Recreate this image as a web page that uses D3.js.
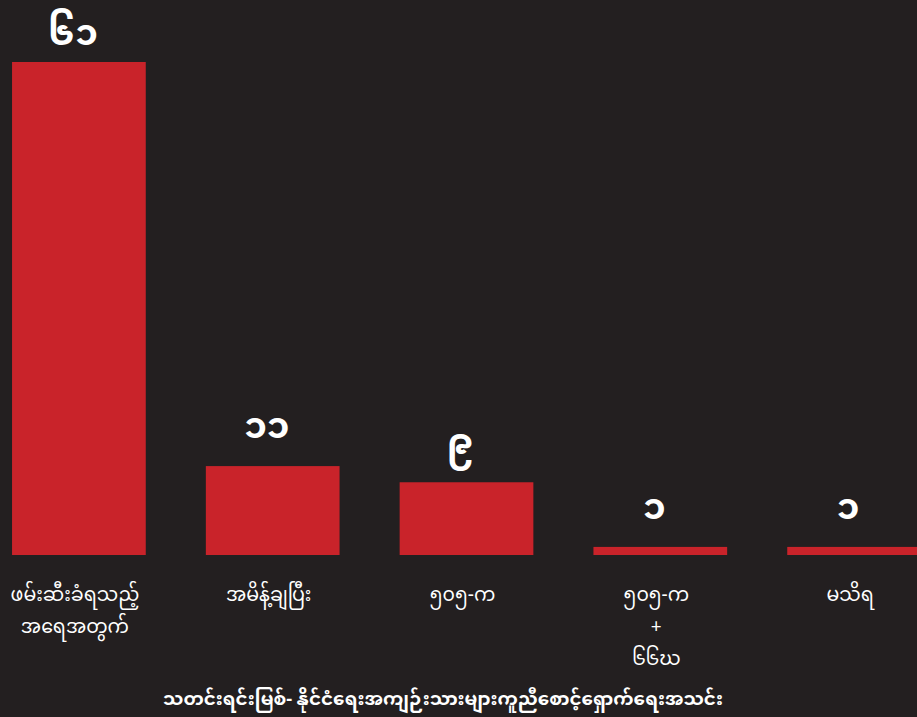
<!DOCTYPE html>
<html>
<head>
<meta charset="utf-8">
<script src="https://cdn.jsdelivr.net/npm/d3@7"></script>
<style>
  html, body { margin: 0; padding: 0; background: #231f20; }
  svg { display: block; }
  text { font-family: "Noto Sans Myanmar", "Noto Sans", sans-serif; fill: #ffffff; }
</style>
</head>
<body>
<div id="root"></div>
<script>
// categories (one array per line of the axis label), values and value labels
var categories = ['c1', 'c2', 'c3', 'c4', 'c5'];
var categoryLines = [
  ['ဖမ်းဆီးခံရသည့်', 'အရေအတွက်'],
  ['အမိန့်ချပြီး'],
  ['၅၀၅-က'],
  ['၅၀၅-က', '+', '၆၆ဃ'],
  ['မသိရ']
];
var values = [61, 11, 9, 1, 1];
var valueLabels = ['၆၁', '၁၁', '၉', '၁', '၁'];
var sourceText = 'သတင်းရင်းမြစ်- နိုင်ငံရေးအကျဉ်းသားများကူညီစောင့်ရှောက်ရေးအသင်း';

var w = 917, h = 717;
var baseY = 555;

var svg = d3.select('#root').append('svg')
  .attr('width', w)
  .attr('height', h);

svg.append('rect')
  .attr('width', w)
  .attr('height', h)
  .attr('fill', '#231f20');

var xScale = d3.scaleBand()
  .domain(categories)
  .range([-18, 951])
  .paddingInner(0.31)
  .paddingOuter(0.155);

var yScale = d3.scaleLinear()
  .domain([0, 61])
  .range([baseY, 62]);

// bars
svg.selectAll('rect.bar')
  .data(values).enter()
  .append('rect')
  .attr('class', 'bar')
  .attr('x', function(d, i) { return xScale(categories[i]); })
  .attr('y', function(d) { return yScale(d); })
  .attr('width', xScale.bandwidth())
  .attr('height', function(d) { return baseY - yScale(d); })
  .attr('fill', '#c9232a');

// value labels above bars
svg.selectAll('text.value')
  .data(values).enter()
  .append('text')
  .attr('class', 'value')
  .attr('text-anchor', 'middle')
  .attr('x', function(d, i) { return xScale(categories[i]) + xScale.bandwidth() / 2 - 6; })
  .attr('y', function(d) { return Math.max(yScale(d) - 28, 45); })
  .style('font-size', '36px')
  .style('font-weight', 'bold')
  .text(function(d, i) { return valueLabels[i]; });

// category labels under bars
var catGroups = svg.selectAll('g.cat')
  .data(categoryLines).enter()
  .append('g')
  .attr('class', 'cat')
  .attr('transform', function(d, i) {
    return 'translate(' + (xScale(categories[i]) + xScale.bandwidth() / 2 - 4) + ',0)';
  });

catGroups.selectAll('text')
  .data(function(d) { return d; }).enter()
  .append('text')
  .attr('text-anchor', 'middle')
  .attr('y', function(d, i) { return 601 + i * 32; })
  .style('font-size', '19px')
  .text(function(d) { return d; });

// source line
svg.append('text')
  .attr('text-anchor', 'middle')
  .attr('x', 443)
  .attr('y', 705)
  .style('font-size', '18.3px')
  .style('font-weight', 'bold')
  .text(sourceText);
</script>
</body>
</html>
